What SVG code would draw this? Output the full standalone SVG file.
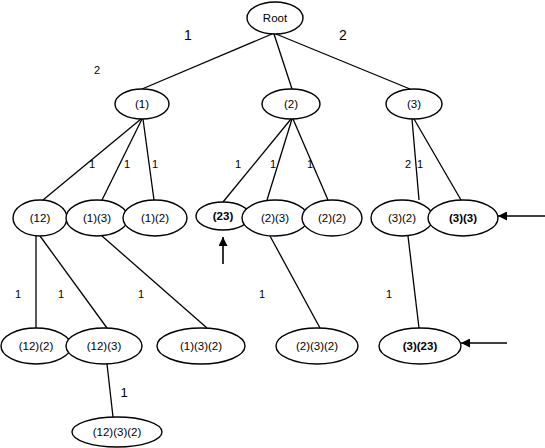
<svg xmlns="http://www.w3.org/2000/svg" width="545" height="448" viewBox="0 0 545 448">
<defs>
<style>
.n ellipse{fill:#fff;stroke:#000;stroke-width:1.4}
.n text{font-family:"Liberation Sans",Arial,sans-serif;font-size:11.5px;text-anchor:middle;dominant-baseline:central;fill:#000}
.b text{font-weight:bold}
.e line{stroke:#000;stroke-width:1.3}
.a line{stroke:#000;stroke-width:1.6}
.l text{font-family:"Liberation Sans",Arial,sans-serif;font-size:11px;text-anchor:middle;dominant-baseline:central;fill:#000}
.l .big{font-size:14px}
.l .mid{font-size:13px}
</style>
<marker id="ah" viewBox="0 0 10 10" refX="10" refY="5" markerWidth="10" markerHeight="9" orient="auto" markerUnits="userSpaceOnUse">
<path d="M0,0 L10,5 L0,10 z" fill="#000"/>
</marker>
</defs>
<g id="connectors" class="e">
<line x1="272" y1="34" x2="142" y2="89"/>
<line x1="274" y1="34" x2="292" y2="89"/>
<line x1="276" y1="34" x2="410" y2="89"/>
<line x1="141" y1="119" x2="43" y2="200"/>
<line x1="142" y1="119" x2="102" y2="200"/>
<line x1="143" y1="119" x2="154" y2="200"/>
<line x1="291" y1="119" x2="223" y2="202"/>
<line x1="292" y1="119" x2="267" y2="200"/>
<line x1="293" y1="119" x2="328" y2="200"/>
<line x1="412" y1="119" x2="419" y2="200"/>
<line x1="414" y1="119" x2="461" y2="200"/>
<line x1="36" y1="236" x2="36" y2="328"/>
<line x1="40" y1="236" x2="107" y2="328"/>
<line x1="102" y1="236" x2="207" y2="328"/>
<line x1="270" y1="236" x2="320" y2="328"/>
<line x1="408" y1="236" x2="419" y2="328"/>
<line x1="107" y1="364" x2="113" y2="417"/>
</g>
<g id="arrows" class="a">
<line x1="223" y1="264" x2="223" y2="237" marker-end="url(#ah)"/>
<line x1="545" y1="216" x2="498" y2="216" marker-end="url(#ah)"/>
<line x1="507" y1="343" x2="461" y2="343" marker-end="url(#ah)"/>
</g>
<g id="labels" class="l">
<text class="big" x="188" y="35">1</text>
<text class="big" x="343" y="35">2</text>
<text x="97" y="70">2</text>
<text x="92" y="164">1</text>
<text x="127" y="164">1</text>
<text x="155" y="164">1</text>
<text x="238" y="164">1</text>
<text x="273" y="164">1</text>
<text x="310" y="164">1</text>
<text x="408" y="164">2</text>
<text x="420" y="164">1</text>
<text x="18" y="294">1</text>
<text x="61" y="294">1</text>
<text x="141" y="294">1</text>
<text x="262" y="294">1</text>
<text x="389" y="294">1</text>
<text class="mid" x="124" y="392">1</text>
</g>
<g id="root" class="n"><ellipse cx="275" cy="18" rx="28" ry="16"/><text x="275" y="18">Root</text></g>
<g id="n1" class="n"><ellipse cx="142" cy="104" rx="27" ry="15"/><text x="142" y="104">(1)</text></g>
<g id="n2" class="n"><ellipse cx="291" cy="104" rx="29" ry="15"/><text x="291" y="104">(2)</text></g>
<g id="n3" class="n"><ellipse cx="414" cy="104" rx="28" ry="15"/><text x="414" y="104">(3)</text></g>
<g id="n12" class="n"><ellipse cx="40" cy="218" rx="27" ry="18"/><text x="40" y="218">(12)</text></g>
<g id="n13" class="n"><ellipse cx="97" cy="218" rx="31" ry="18"/><text x="97" y="218">(1)(3)</text></g>
<g id="n1_2" class="n"><ellipse cx="155" cy="218" rx="32" ry="18"/><text x="155" y="218">(1)(2)</text></g>
<g id="n23" class="n b"><ellipse cx="223" cy="216" rx="27" ry="14"/><text x="223" y="216">(23)</text></g>
<g id="n2_3" class="n"><ellipse cx="275" cy="218" rx="33" ry="18"/><text x="275" y="218">(2)(3)</text></g>
<g id="n2_2" class="n"><ellipse cx="332" cy="218" rx="30" ry="18"/><text x="332" y="218">(2)(2)</text></g>
<g id="n3_2" class="n"><ellipse cx="402" cy="218" rx="31" ry="18"/><text x="402" y="218">(3)(2)</text></g>
<g id="n3_3" class="n b"><ellipse cx="463" cy="218" rx="35" ry="18"/><text x="463" y="218">(3)(3)</text></g>
<g id="n12_2" class="n"><ellipse cx="36" cy="346" rx="35" ry="18"/><text x="36" y="346">(12)(2)</text></g>
<g id="n12_3" class="n"><ellipse cx="104" cy="346" rx="38" ry="18"/><text x="104" y="346">(12)(3)</text></g>
<g id="n1_3_2" class="n"><ellipse cx="201" cy="346" rx="44" ry="18"/><text x="201" y="346">(1)(3)(2)</text></g>
<g id="n2_3_2" class="n"><ellipse cx="317" cy="346" rx="41" ry="18"/><text x="317" y="346">(2)(3)(2)</text></g>
<g id="n3_23" class="n b"><ellipse cx="420" cy="346" rx="41" ry="18"/><text x="420" y="346">(3)(23)</text></g>
<g id="n12_3_2" class="n"><ellipse cx="117" cy="432" rx="45" ry="15"/><text x="117" y="432">(12)(3)(2)</text></g>
</svg>
